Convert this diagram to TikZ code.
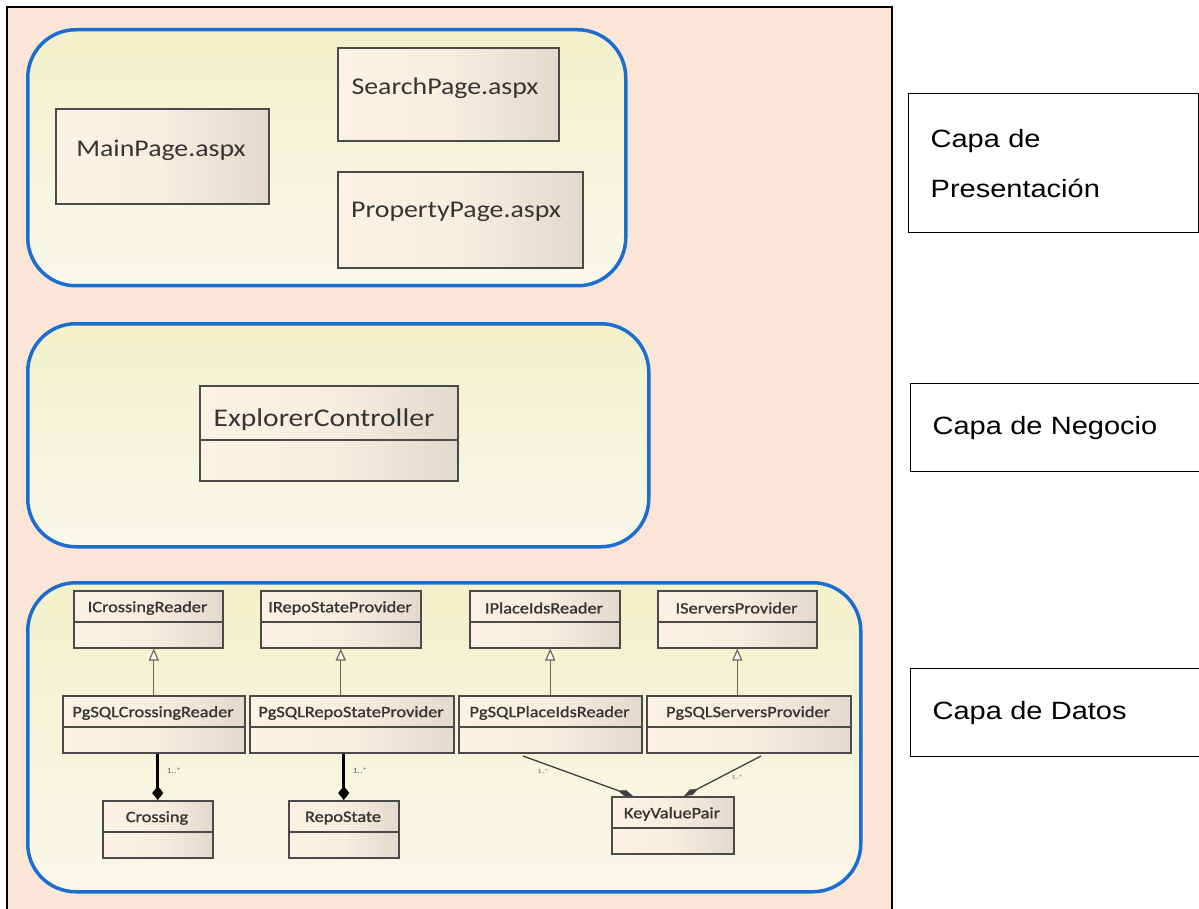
\documentclass[tikz,border=0pt]{standalone}
\usepackage{fontspec}
\setmainfont{Carlito}[FakeStretch=1.16]
\newfontfamily\umlfont{Carlito}[FakeStretch=1.16,FakeBold=1.2]
\newfontfamily\capafont{Liberation Sans}[FakeStretch=1.16]
\usetikzlibrary{arrows.meta}

\definecolor{peach}{HTML}{FBE5D6}
\definecolor{panelblue}{HTML}{1C6DD0}
\definecolor{paneltop}{HTML}{F2F1CA}
\definecolor{panelbot}{HTML}{F9F8EA}
\definecolor{boxleft}{HTML}{FCF2E4}
\definecolor{boxmid}{HTML}{F7EEE0}
\definecolor{boxright}{HTML}{E2DACD}
\definecolor{boxline}{HTML}{4A4A4A}
\definecolor{umltext}{HTML}{353535}
\definecolor{linkgray}{HTML}{6A6A5A}

\tikzset{
  x=1pt, y=-1pt,
  panel/.style={draw=panelblue, line width=3.5pt, rounded corners=48pt,
    top color=paneltop, bottom color=panelbot, anchor=north west, inner sep=0pt},
  pagebox/.style={draw=boxline, line width=1.8pt, left color=boxleft,
    right color=boxright, middle color=boxmid, anchor=north west, inner sep=0pt},
  classbox/.style={draw=boxline, line width=1.5pt, left color=boxleft,
    right color=boxright, middle color=boxmid, anchor=north west, inner sep=0pt},
  pagename/.style={font=\fontsize{24}{28}\selectfont, text=umltext},
  classname/.style={font=\umlfont\fontsize{15.8}{18}\selectfont, text=umltext},
  layerbox/.style={draw=black, line width=1.3pt, fill=white, anchor=north west,
    inner xsep=22pt, inner ysep=0pt, align=left,
    font=\capafont\fontsize{25}{50}\selectfont},
  gen/.style={draw=linkgray, line width=1.3pt,
    -{Triangle[open, length=12pt, width=10pt, fill=white, line width=1.2pt]}},
  comp/.style={draw=black, line width=2.6pt,
    -{Diamond[length=14pt, width=11pt, line width=0.5pt]}},
  compthin/.style={draw=black!75, line width=1.3pt,
    -{Diamond[length=16pt, width=6pt, line width=0.4pt]}},
  mult/.style={font=\fontsize{8}{9}\selectfont, text=black!60, inner sep=0pt},
}

% UML class: name, x1, y1, x2, y2, separator y, title
\newcommand\umlclass[7]{%
  \node[classbox, minimum width={#4-#2}, minimum height={#5-#3}] (#1) at (#2,#3) {};
  \draw[boxline, line width=1.3pt] (#1.west |- 0,#6) -- (#1.east |- 0,#6);
  \node[classname] (#1-title) at ({(#2+#4)/2},{(#3+#6)/2+2}) {#7};
}

\begin{document}
\begin{tikzpicture}
\useasboundingbox (0,0) rectangle (1199,909);
\fill[white] (0,0) rectangle (1199,909);

% outer frame
\fill[peach] (7,7) rectangle (892,909);
\draw[black, line width=2pt] (7,909) -- (7,7) -- (892,7) -- (892,909);

% layer panels
\node[panel, minimum width=598, minimum height=256] (pres) at (26,28) {};
\node[panel, minimum width=621, minimum height=223] (biz) at (26,322) {};
\node[panel, minimum width=833, minimum height=309] (data) at (26,581) {};

% presentation layer pages
\node[pagebox, minimum width=213, minimum height=95] (mainpage) at (55,108) {};
\node[pagename] (mainpage-title) at (161,150) {MainPage.aspx};
\node[pagebox, minimum width=221, minimum height=93] (searchpage) at (337,47) {};
\node[pagename] (searchpage-title) at (445,88) {SearchPage.aspx};
\node[pagebox, minimum width=245, minimum height=96] (proppage) at (337,171) {};
\node[pagename] (proppage-title) at (456,212) {PropertyPage.aspx};

% business layer
\node[pagebox, minimum width=258, minimum height=95] (explorer) at (199,385) {};
\draw[boxline, line width=1.5pt] (explorer.west |- 0,440) -- (explorer.east |- 0,440);
\node[font=\fontsize{25.5}{30}\selectfont, text=umltext] (explorer-title) at (324,420) {ExplorerController};

% data layer classes
\umlclass{icr}{73}{590}{222}{647}{622}{ICrossingReader}
\umlclass{irp}{260}{590}{420}{647}{622}{IRepoStateProvider}
\umlclass{ipl}{469}{590}{619}{647}{622}{IPlaceIdsReader}
\umlclass{isp}{657}{590}{816}{647}{622}{IServersProvider}
\umlclass{pgcr}{62}{695}{244}{752}{727}{PgSQLCrossingReader}
\umlclass{pgrp}{249}{695}{453}{752}{727}{PgSQLRepoStateProvider}
\umlclass{pgpl}{458}{695}{641}{752}{727}{PgSQLPlaceIdsReader}
\umlclass{pgsp}{646}{695}{850}{752}{727}{PgSQLServersProvider}
\umlclass{crossing}{102}{800}{212}{857}{832}{Crossing}
\umlclass{repostate}{288}{800}{398}{857}{832}{RepoState}
\umlclass{kvp}{611}{796}{733}{853}{828}{KeyValuePair}

% realizations
\draw[gen] (pgcr.north) -- (pgcr.north |- icr.south);
\draw[gen] (irp.south |- pgrp.north) -- (irp.south);
\draw[gen] (pgpl.north) -- (pgpl.north |- ipl.south);
\draw[gen] (isp.south |- pgsp.north) -- (isp.south);

% compositions
\draw[comp] (crossing.north |- pgcr.south) -- (crossing.north);
\node[mult] (m1) at (174,771) {1..*};
\draw[comp] (repostate.north |- pgrp.south) -- (repostate.north);
\node[mult] (m2) at (360,771) {1..*};
\coordinate (kv-from1) at (523,756);
\coordinate (kv-to1) at (633,796);
\coordinate (kv-from2) at (761,756);
\coordinate (kv-to2) at (684,796);
\draw[compthin] (kv-from1) -- (kv-to1);
\draw[compthin] (kv-from2) -- (kv-to2);
\node[mult, font=\fontsize{6}{7}\selectfont] (m3) at (543,771) {1..*};
\node[mult, font=\fontsize{6}{7}\selectfont] (m4) at (737,777) {1..*};

% layer captions
\node[layerbox, minimum width=290, minimum height=139, text width=246] (cap1) at (908,93)
  {Capa de\\Presentación};
\node[layerbox, minimum width=288, minimum height=88, text width=246] (cap2) at (910,383)
  {Capa de Negocio};
\node[layerbox, minimum width=288, minimum height=88, text width=246] (cap3) at (910,668)
  {Capa de Datos};
\end{tikzpicture}
\end{document}
